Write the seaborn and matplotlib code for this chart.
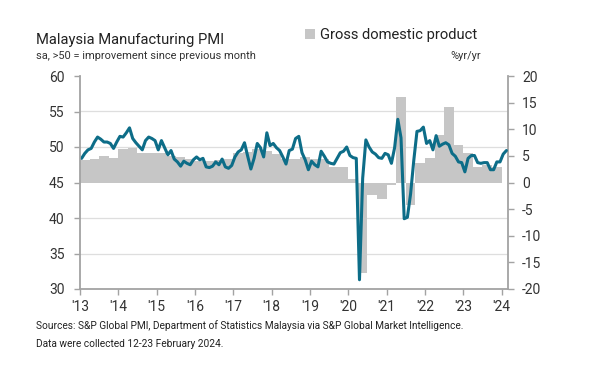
"""Malaysia Manufacturing PMI vs GDP growth"""
import matplotlib
matplotlib.use("Agg")
import matplotlib.pyplot as plt
import numpy as np
import pandas as pd
import seaborn as sns

# PMI, monthly, Jan 2013 - Feb 2024 (sa, >50 = improvement)
pmi_2013 = [48.4, 49.1, 49.6, 49.8, 50.7, 51.4, 51.1, 50.7, 50.7, 50.5, 49.8, 50.7]
pmi_2014 = [51.5, 51.4, 52.0, 52.7, 51.2, 50.6, 50.1, 49.6, 50.9, 51.4, 51.2, 50.9]
pmi_2015 = [49.6, 50.9, 49.9, 48.9, 49.5, 48.3, 47.9, 47.3, 48.0, 47.7, 47.5, 48.2]
pmi_2016 = [48.6, 48.2, 48.4, 47.2, 47.1, 47.3, 47.9, 47.5, 48.3, 47.2, 47.0, 47.4]
pmi_2017 = [48.6, 49.3, 49.6, 50.6, 48.7, 46.9, 48.4, 50.5, 49.9, 48.6, 52.0, 50.2]
pmi_2018 = [50.5, 49.9, 49.5, 48.6, 47.6, 49.5, 49.7, 51.2, 51.5, 49.2, 48.2, 46.8]
pmi_2019 = [48.0, 47.5, 47.2, 49.4, 48.7, 47.9, 47.7, 47.6, 48.4, 49.2, 49.4, 50.0]
pmi_2020 = [48.8, 48.5, 48.4, 31.3, 45.6, 51.0, 50.0, 49.3, 49.0, 48.5, 48.4, 49.1]
pmi_2021 = [48.9, 47.7, 49.9, 53.9, 51.3, 39.9, 40.1, 43.4, 48.1, 52.2, 52.3, 52.8]
pmi_2022 = [50.5, 50.9, 49.6, 51.6, 50.1, 50.4, 50.6, 50.3, 49.1, 48.7, 47.9, 47.8]
pmi_2023 = [46.5, 48.4, 48.8, 48.8, 47.8, 47.7, 47.8, 47.8, 46.8, 46.8, 47.9, 47.9]
pmi_2024 = [49.0, 49.5]

# GDP, quarterly, %yr/yr, 2013 Q1 - 2023 Q4
gdp_values = [4.3, 4.4, 5.0, 4.6,
              6.2, 6.4, 5.6, 5.6,
              5.5, 5.0, 4.7, 4.5,
              4.1, 4.0, 4.3, 4.5,
              5.6, 5.8, 6.2, 5.9,
              5.4, 4.5, 4.4, 4.7,
              4.5, 4.5, 2.9, 2.9,
              0.7, -17.0, -2.4, -3.1,
              -0.5, 16.1, -4.3, 3.6,
              4.6, 8.9, 14.2, 7.1,
              5.6, 2.9, 3.3, 3.0]

year_ticks = list(range(2013, 2025))
year_labels = ["'13", "'14", "'15", "'16", "'17", "'18", "'19", "'20", "'21", "'22", "'23", "'24"]
pmi_ticks = [30, 35, 40, 45, 50, 55, 60]
gdp_ticks = [-20, -15, -10, -5, 0, 5, 10, 15, 20]

pmi_values = (pmi_2013 + pmi_2014 + pmi_2015 + pmi_2016 + pmi_2017 + pmi_2018
              + pmi_2019 + pmi_2020 + pmi_2021 + pmi_2022 + pmi_2023 + pmi_2024)

# x as decimal years: months plotted mid-month, quarters start at quarter start
df_pmi = pd.DataFrame({"date": 2013 + (np.arange(len(pmi_values)) + 0.5) / 12,
                       "pmi": pmi_values})
df_gdp = pd.DataFrame({"date": 2013 + np.arange(len(gdp_values)) / 4,
                       "gdp": gdp_values})

sns.set_theme(style="ticks")
plt.rcParams["font.family"] = ["Roboto", "DejaVu Sans"]
plt.rcParams["axes.unicode_minus"] = False

W, H = 600, 370
fig = plt.figure(figsize=(W / 100, H / 100), dpi=100)
ax_gdp = fig.add_axes([80 / W, 1 - 289 / H, 428 / W, 213 / H])
ax_pmi = ax_gdp.twinx()

grey = "#a3a3a3"
text_col = "#333333"

# GDP bars (right axis)
ax_gdp.bar(df_gdp["date"], df_gdp["gdp"], width=0.25, align="edge",
           color="#c6c6c6", linewidth=0, label="Gross domestic product")
ax_gdp.set_ylim(-20, 20)
ax_gdp.set_yticks(gdp_ticks)
ax_gdp.yaxis.tick_right()

# horizontal grid follows the PMI ticks, kept under the bars
pmi_lo, pmi_hi = 30, 60
grid_pos = [(t - pmi_lo) / (pmi_hi - pmi_lo) * 40 - 20 for t in pmi_ticks]
ax_gdp.set_yticks(grid_pos, minor=True)
ax_gdp.grid(which="minor", axis="y", color="#dedede", linewidth=0.9)
ax_gdp.set_axisbelow(True)

# PMI line (left axis)
sns.lineplot(data=df_pmi, x="date", y="pmi", ax=ax_pmi, color="#0d6d88", linewidth=2.2)
ax_pmi.set_ylim(pmi_lo, pmi_hi)
ax_pmi.set_yticks(pmi_ticks)
ax_pmi.yaxis.tick_left()
ax_pmi.set_xlim(2013, 2024 + 2 / 12)
ax_gdp.set_xticks(year_ticks)
ax_gdp.set_xticklabels(year_labels)
for a in (ax_gdp, ax_pmi):
    a.set_xlabel("")
    a.set_ylabel("")

# spines and ticks
for s in ["top", "left"]:
    ax_gdp.spines[s].set_visible(False)
for s in ["top", "right", "bottom"]:
    ax_pmi.spines[s].set_visible(False)
for sp in [ax_gdp.spines["bottom"], ax_gdp.spines["right"], ax_pmi.spines["left"]]:
    sp.set_color(grey)
    sp.set_linewidth(1.3)

ax_gdp.tick_params(axis="x", which="major", direction="out", length=4, width=1,
                   color=grey, labelsize=10, labelcolor=text_col, pad=4)
ax_gdp.tick_params(axis="y", which="major", direction="out", length=4, width=1,
                   color=grey, labelsize=10, labelcolor=text_col, pad=6)
ax_gdp.tick_params(axis="y", which="minor", length=0, left=False, right=False)
ax_pmi.tick_params(axis="y", direction="out", length=4, width=1, color=grey,
                   labelsize=10, labelcolor=text_col, pad=7)

# titles and notes
fig.text(36 / W, 1 - 44 / H, "Malaysia Manufacturing PMI", fontsize=10.6,
         color="#222222", va="baseline")
fig.text(36 / W, 1 - 59 / H, "sa, >50 = improvement since previous month",
         fontsize=7.9, color=text_col, va="baseline")
fig.text(481 / W, 1 - 59 / H, "%yr/yr", fontsize=7.9, color=text_col,
         va="baseline", ha="right")
fig.legend(loc="upper left", bbox_to_anchor=(305 / W, 1 - 28 / H), frameon=False,
           fontsize=10.6, handlelength=0.7, handleheight=0.7, handletextpad=0.35,
           borderpad=0, borderaxespad=0, labelcolor="#222222")
fig.text(36 / W, 1 - 329 / H,
         "Sources: S&P Global PMI, Department of Statistics Malaysia via S&P Global Market Intelligence.",
         fontsize=7.3, color="#222222", va="baseline")
fig.text(36 / W, 1 - 347 / H, "Data were collected 12-23 February 2024.",
         fontsize=7.3, color="#222222", va="baseline")

fig.savefig("out.png", dpi=100)
